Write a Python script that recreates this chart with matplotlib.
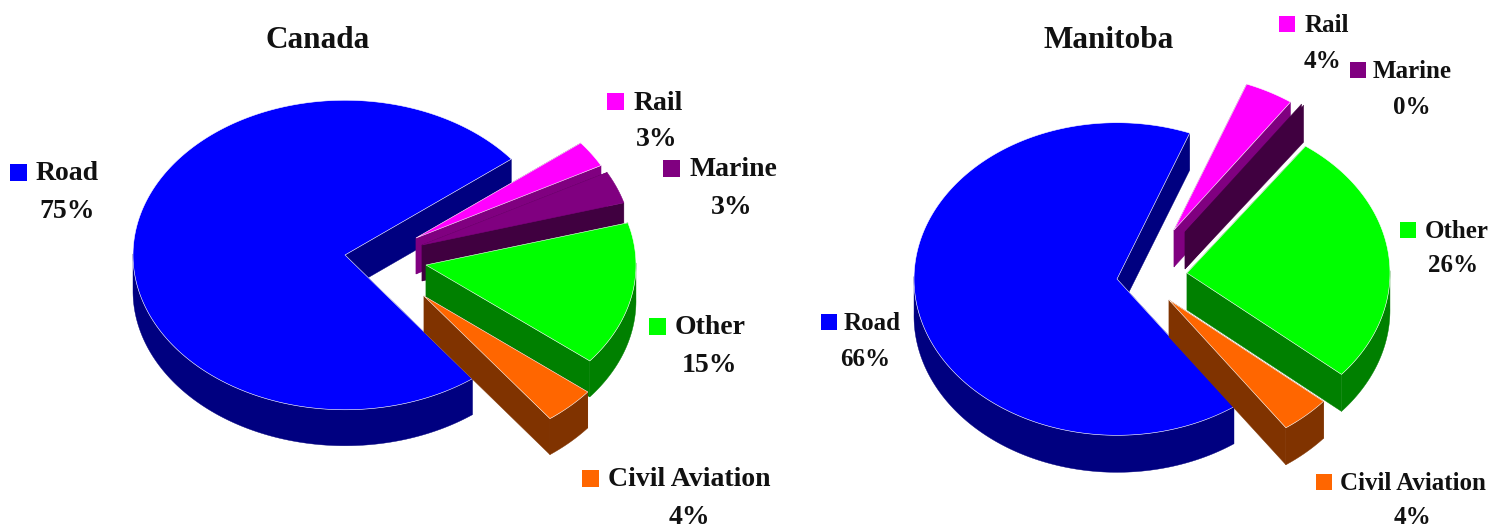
import matplotlib
matplotlib.use("Agg")
import matplotlib.pyplot as plt
from matplotlib.patches import Polygon, Rectangle
import numpy as np

plt.rcParams['font.family'] = ['Liberation Serif', 'DejaVu Serif']

# order is counter clockwise starting at the road slice
categories = ["Road", "Civil Aviation", "Other", "Marine", "Rail"]
canada_values = [74.6, 4.0, 15.2, 3.4, 2.8]
manitoba_values = [65.6, 4.0, 26.3, 0.2, 3.9]

colors = ["#0000ff", "#ff6600", "#00ff00", "#800080", "#ff00ff"]
shades = ["#000080", "#803300", "#008000", "#400040", "#800080"]
# marine top has the same colour as the rail side, a white edge would split them
edges = ["white", "white", "white", "#800080", "white"]

# drawing order, back to front
draw_order = [0, 4, 3, 2, 1]


def arc_points(tip, radius, squash, a0, a1):
    t = np.radians(np.linspace(a0, a1, max(int(abs(a1 - a0)), 1) + 1))
    return np.column_stack([tip[0] + radius * np.cos(t),
                            tip[1] - radius * squash * np.sin(t)])


def draw_slice(ax, tip, radius, squash, depth, a0, a1, color, shade, edge):
    arc = arc_points(tip, radius, squash, a0, a1)
    down = np.array([0, depth])
    tip = np.array(tip, dtype=float)

    # the two cut faces
    for end in (arc[0], arc[-1]):
        face = [tip, end, end + down, tip + down]
        ax.add_patch(Polygon(face, fc=shade, ec=shade, lw=0.3, zorder=ax.nz))
        ax.nz += 1

    # outer wall, only the part turned to the viewer
    t = np.radians(np.linspace(a0, a1, len(arc)))
    front = arc[np.sin(t) <= 0.02]
    if len(front) > 1:
        wall = np.vstack([front, front[::-1] + down])
        ax.add_patch(Polygon(wall, fc=shade, ec=shade, lw=0.3, zorder=ax.nz))
        ax.nz += 1

    if a1 - a0 > 1:
        top = np.vstack([tip, arc])
        ax.add_patch(Polygon(top, fc=color, ec=edge, lw=0.4, zorder=ax.nz))
        ax.nz += 1


def draw_pie(ax, values, start, tips, radius, small_radius, squash, depth):
    angles = [start]
    for v in values:
        angles.append(angles[-1] + v * 3.6)
    for i in draw_order:
        r = radius if i == 0 else small_radius
        draw_slice(ax, tips[i], r, squash, depth,
                   angles[i], angles[i + 1], colors[i], shades[i], edges[i])


def draw_labels(ax, values, boxes, names, pcts, size, fs):
    for i in range(len(values)):
        x, y = boxes[i]
        ax.add_patch(Rectangle((x, y), size, size, fc=colors[i], ec="none", zorder=100))
        ax.text(names[i], y + size / 2 + 1.5, categories[i], fontsize=fs, fontweight="bold",
                ha="left", va="center", color="#111111", zorder=101)
        ax.text(pcts[i][0], pcts[i][1], "{:.0f}%".format(values[i]), fontsize=fs,
                fontweight="bold", ha="center", va="center", color="#111111", zorder=101)


fig = plt.figure(figsize=(15.02, 5.29), dpi=100)
ax = fig.add_axes([0, 0, 1, 1])
ax.set_xlim(0, 1502)
ax.set_ylim(529, 0)
ax.axis("off")
ax.nz = 1

draw_pie(ax, canada_values, 38.3,
         [(345, 255), (424, 296), (426, 265), (422, 245), (416, 238)],
         212, 210, 0.73, 36)
draw_pie(ax, manitoba_values, 69,
         [(1117, 279), (1169, 300), (1187, 273), (1185, 232), (1174, 230)],
         203, 203, 0.77, 37)

draw_labels(ax, canada_values,
            [(10, 164), (582, 470), (649, 318), (663, 160), (607, 93)],
            [36, 608, 675, 689, 634],
            [(67, 212), (689, 517), (709, 365), (732, 208), (657, 140)],
            17, 20)
draw_labels(ax, manitoba_values,
            [(821, 314), (1316, 474), (1400, 222), (1350, 62), (1279, 16)],
            [844, 1340, 1425, 1373, 1305],
            [(865, 359), (1412, 517), (1453, 266), (1412, 107), (1323, 61)],
            16, 18)

ax.text(318, 41, "Canada", fontsize=22.5, fontweight="bold", ha="center", va="center", color="#111111")
ax.text(1109, 41, "Manitoba", fontsize=22.5, fontweight="bold", ha="center", va="center", color="#111111")

fig.savefig("out.png", dpi=100)
